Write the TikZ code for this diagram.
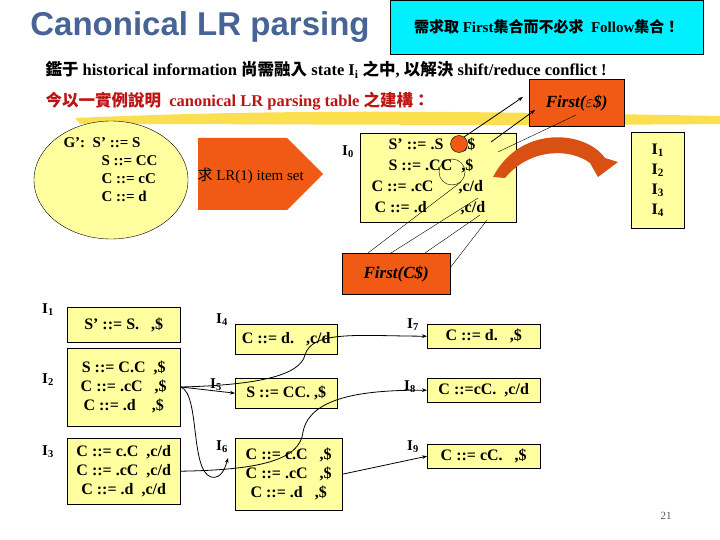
\documentclass[tikz,border=0pt]{standalone}
\usepackage{fontspec}
\setmainfont{Liberation Serif}
\newfontfamily\titlefont{Liberation Sans}
\newfontfamily\cjk{Noto Sans CJK TC}
\usetikzlibrary{shapes.arrows,shapes.geometric,arrows.meta}
\definecolor{by}{RGB}{255,255,160}
\definecolor{org}{RGB}{240,90,20}
\definecolor{cy}{RGB}{0,240,255}
\definecolor{tb}{RGB}{70,100,150}
\definecolor{dr}{RGB}{190,20,20}
\begin{document}
\begin{tikzpicture}[x=1pt,y=-1pt,
 yb/.style={draw,fill=by,font=\bfseries\fontsize{16}{19}\selectfont,align=center,inner sep=2pt},
 ob/.style={draw,fill=org,font=\bfseries\itshape\fontsize{17}{19}\selectfont,inner sep=0pt},
 lab/.style={font=\bfseries\fontsize{15}{17}\selectfont},
 con/.style={-{Stealth[length=5pt]},thick}]
\useasboundingbox (0,0) rectangle (720,540);
\fill[white] (0,0) rectangle (720,540);
% title
\fill[gray!60] (0,0) rectangle (0,0);
\node (title) [text=tb,font=\titlefont\bfseries\fontsize{33}{36}\selectfont] at (200,27) {Canonical LR parsing};
\node (cyan) [draw,fill=cy,minimum width=313pt,minimum height=54pt,anchor=north west,font=\bfseries\fontsize{15}{17}\selectfont] at (390,0) {{\cjk 需求取} First{\cjk 集合而不必求}\ \ Follow{\cjk 集合！}};
\node (l2) [anchor=west,font=\bfseries\fontsize{16.5}{18}\selectfont] at (42,70) {{\cjk 鑑于}\ historical information {\cjk 尚需融入}\ state I\textsubscript{i} {\cjk 之中}, {\cjk 以解決}\ shift/reduce conflict !};
% brush stroke
\fill[yellow!70!orange,opacity=.7] (75,118) .. controls (300,108) and (500,112) .. (720,116) -- (720,124) .. controls (500,126) and (300,124) .. (80,124) -- cycle;
\node (l3) [anchor=west,text=dr,font=\bfseries\fontsize{16.5}{18}\selectfont] at (42,101) {{\cjk 今以一實例說明}\ \ canonical LR parsing table {\cjk 之建構：}};
\node (fe) [ob,minimum width=95pt,minimum height=47pt,anchor=north west] at (529,79) {First($\varepsilon$\$)};
% G' ellipse
\node (g) [draw,fill=by,ellipse,minimum width=154pt,minimum height=118pt] at (111,180) {};
\node (gt) [font=\bfseries\fontsize{15}{18}\selectfont,align=left,anchor=north west] at (60,134) {G':\ \ S' ::= S\\ \hspace{38pt}S ::= CC\\ \hspace{38pt}C ::= cC\\ \hspace{38pt}C ::= d};
\node (arr) [single arrow,draw=none,fill=org,minimum height=125pt,minimum width=72pt,single arrow head extend=0pt,anchor=west] at (198,174) {};
\node (arrt) [anchor=west,font=\fontsize{15}{17}\selectfont] at (194,176) {{\cjk 求} LR(1) item set};
% I0
\node (i0l) [lab] at (348,152) {I\textsubscript{0}};
\node (i0) [yb,minimum width=156pt,minimum height=89pt,anchor=north west] at (360,133) {};
\node (i0t) [font=\bfseries\fontsize{16}{21}\selectfont,align=left,anchor=north west] at (368,134) {\hspace{17pt}S' ::= .S\hspace{20pt},\$\\ \hspace{17pt}S ::= .CC\hspace{9pt},\$\\ C ::= .cC\hspace{25pt},c/d\\ \hspace{3pt}C ::= .d\hspace{34pt},c/d};
\fill[org,draw=black] (459,144) circle (8.5);
\draw (452,172) circle (13);
\node (i14) [yb,minimum width=53pt,minimum height=96pt,anchor=north west,font=\bfseries\fontsize{16}{20}\selectfont] at (631,132) {I\textsubscript{1}\\I\textsubscript{2}\\I\textsubscript{3}\\I\textsubscript{4}};
% curved orange arrow
\fill[org!90!black] (493,177) .. controls (520,125) and (585,130) .. (605,158) -- (618,162) -- (598,177) -- (590,163) .. controls (570,148) and (530,148) .. (505,178) -- cycle;
\coordinate (a1) at (464,137); \coordinate (a2) at (491,142); \coordinate (a3) at (498,152);
\draw[con] (a1) -- (523,97);
\draw[con] (a2) -- (535,110);
\draw (a3) -- (576,115);
% First(C$)
\node (fc) [ob,minimum width=108pt,minimum height=41pt,anchor=north west] at (342,253) {First(C\$)};
\coordinate (b1) at (461,182); \coordinate (b2) at (478,198); \coordinate (b3) at (480,215); \coordinate (b4) at (487,220);
\draw (b1) -- (368,253); \draw (b2) -- (391,253); \draw (b3) -- (425,253); \draw (b4) -- (450,268);
% bottom boxes
\node (i1l) [lab] at (48,310) {I\textsubscript{1}};
\node (i1) [yb,minimum width=113pt,minimum height=35pt,anchor=north west] at (67,307) {S' ::= S.\ \ \ ,\$};
\node (i2l) [lab] at (48,380) {I\textsubscript{2}};
\node (i2) [yb,minimum width=113pt,minimum height=78pt,anchor=north west] at (67,348) {S ::= C.C\ \ ,\$\\C ::= .cC\ \ \ ,\$\\C ::= .d\ \ \ \ ,\$};
\node (i3l) [lab] at (48,452) {I\textsubscript{3}};
\node (i3) [yb,minimum width=113pt,minimum height=66pt,anchor=north west] at (67,438) {C ::= c.C\ \ ,c/d\\C ::= .cC\ \ ,c/d\\C ::= .d\ \ ,c/d};
\node (i4l) [lab] at (222,320) {I\textsubscript{4}};
\node (i4) [yb,minimum width=102pt,minimum height=30pt,anchor=north west] at (235,324) {C ::= d.\ \ \ ,c/d};
\node (i5l) [lab] at (216,385) {I\textsubscript{5}};
\node (i5) [yb,minimum width=102pt,minimum height=30pt,anchor=north west] at (235,378) {S ::= CC.\ ,\$};
\node (i6l) [lab] at (222,447) {I\textsubscript{6}};
\node (i6) [yb,minimum width=107pt,minimum height=72pt,anchor=north west] at (235,438) {C ::= c.C\ \ \ ,\$\\C ::= .cC\ \ \ ,\$\\C ::= .d\ \ \ ,\$};
\node (i7l) [lab] at (413,325) {I\textsubscript{7}};
\node (i7) [yb,minimum width=113pt,minimum height=24pt,anchor=north west] at (427,324) {C ::= d.\ \ \ ,\$};
\node (i8l) [lab] at (410,387) {I\textsubscript{8}};
\node (i8) [yb,minimum width=113pt,minimum height=24pt,anchor=north west] at (427,378) {C ::=cC.\ \ ,c/d};
\node (i9l) [lab] at (413,447) {I\textsubscript{9}};
\node (i9) [yb,minimum width=113pt,minimum height=24pt,anchor=north west] at (427,444) {C ::= cC.\ \ \ ,\$};
\node (pg) [font=\fontsize{11}{12}\selectfont,text=gray!70!black] at (666,516) {21};
% connectors
\coordinate (s2) at (181,387);
\draw[con] (s2) .. controls (260,385) and (300,375) .. (305,355) .. controls (312,330) and (360,336) .. (i7.west);
\draw[con] (s2) -- (i5.west);
\draw[con] (s2) .. controls (200,395) and (190,470) .. (211,477) .. controls (222,480) and (226,465) .. (228,458);
\draw[con] (i3.east) .. controls (260,470) and (300,460) .. (303,432) .. controls (310,395) and (370,390) .. (i8.west);
\draw[con] (i6.east) -- (i9.west);
\end{tikzpicture}
\end{document}
